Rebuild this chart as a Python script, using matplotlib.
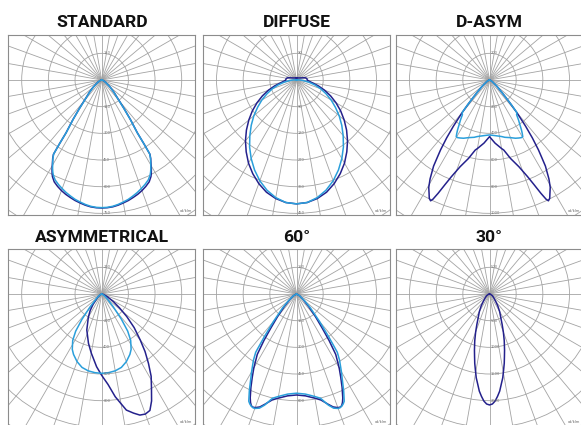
import numpy as np
import matplotlib
matplotlib.use("Agg")
import matplotlib.pyplot as plt
from matplotlib.patches import Circle

# panel titles and the intensity step of one grid circle (cd/klm)
titles = ["STANDARD", "DIFFUSE", "D-ASYM", "ASYMMETRICAL", "60°", "30°"]
steps = [150, 90, 200, 200, 150, 500]

# angles from nadir (deg) and intensities (cd/klm); half curves are mirrored
std_ang = [0, 2.5, 5, 7.5, 10, 12.5, 15, 17.5, 20, 22.5, 25, 27, 28, 29, 30, 31, 32, 33, 33.5, 34,
           36, 38, 40, 45, 50, 60, 70, 80, 90]
std_dark = [720, 719, 716, 710, 702, 694, 684, 674, 662, 648, 632, 610, 594, 576, 556, 537, 520, 498, 430, 360,
            275, 205, 155, 98, 62, 26, 10, 3, 0]
std_light = [718, 717, 713, 706, 697, 688, 676, 664, 650, 636, 620, 600, 586, 570, 552, 535, 517, 496, 428, 356,
             272, 202, 152, 96, 60, 25, 10, 3, 0]

dif_ang = [0, 5, 10, 15, 20, 25, 30, 35, 40, 45, 50, 55, 60, 65, 70, 75, 80, 85, 90, 95, 100, 105, 120, 150, 180]
dif_dark = [418, 415, 406, 392, 372, 349, 324, 296, 268, 239, 210, 182, 154, 127, 101, 76, 54, 42, 36, 36, 34,
            30, 14, 8, 7]
dif_light = [418, 415, 403, 385, 362, 335, 306, 276, 245, 216, 188, 160, 135, 110, 87, 64, 42, 24, 12, 5, 0,
             0, 0, 0, 0]

das_dang = [0, 5, 10, 11.5, 15, 18.7, 21.5, 23, 24.4, 25.4, 26, 27, 28, 29.5, 31, 33, 34, 35, 36.5, 38, 40,
            41.5, 43, 45, 50, 60, 70, 90]
das_dark = [425, 475, 522, 536, 609, 686, 779, 850, 933, 990, 1008, 995, 965, 925, 865, 770, 700, 640, 540, 440,
            320, 240, 180, 130, 70, 22, 8, 0]
das_lang = [0, 5, 10, 12.5, 15, 20, 24, 27, 29, 30.4, 31.5, 32.6, 34, 36, 38, 40, 41.5, 43, 45, 50, 60, 70, 90]
das_light = [412, 418, 428, 435, 445, 460, 478, 488, 494, 493, 470, 445, 410, 370, 330, 320, 245, 180, 130, 70,
             22, 8, 0]

asy_dang = [-90, -70, -60, -50, -40, -35, -30, -22.5, -15, -10, -4, 0, 4, 7.5, 12, 15, 17.5, 20,
            22.5, 25, 28, 31, 34, 37, 40, 44, 48, 52, 57, 65, 75, 90]
asy_dark = [0, 5, 15, 40, 100, 150, 200, 292, 383, 450, 547, 610, 680, 777, 890, 925, 952, 958,
            945, 885, 795, 720, 627, 540, 449, 350, 253, 170, 105, 45, 15, 0]
asy_lang = [0, 5, 10, 15, 20, 25, 28, 32, 35, 38, 42, 50, 60, 90]
asy_light = [595, 592, 585, 570, 540, 500, 470, 410, 340, 240, 130, 50, 20, 0]

six_dang = [0, 5, 10, 13, 16, 18, 20, 21, 22, 23, 24, 26, 28, 30, 33, 35, 37, 40, 44, 50, 60, 90]
six_dark = [568, 575, 595, 612, 645, 668, 680, 682, 678, 662, 640, 585, 530, 480, 405, 320, 240, 165, 100, 50,
            20, 0]
six_lang = [0, 5, 10, 13, 16, 18, 20, 21, 22, 23, 24, 26, 28, 30, 33, 35, 37, 40, 45, 50, 60, 90]
six_light = [558, 565, 585, 602, 650, 675, 685, 685, 680, 672, 660, 605, 550, 505, 445, 400, 300, 200, 110, 60,
             20, 0]

thi_ang = [0, 1.5, 3, 4.5, 6, 7.5, 9, 10.5, 12, 13.5, 15, 17.5, 20, 22.5, 25, 30, 35, 40, 50, 60, 75, 90]
thi_dark = [2080, 2063, 2010, 1924, 1830, 1700, 1590, 1450, 1330, 1200, 1090, 920, 760, 620, 510, 380, 270, 180,
            100, 60, 20, 0]

DARK = "#24218c"
LIGHT = "#2a9fdb"
GRID = "#a3a3a3"


def mirror(ang, val):
    ang = np.asarray(ang, float)
    val = np.asarray(val, float)
    return np.concatenate([-ang[::-1], ang[1:]]), np.concatenate([val[::-1], val[1:]])


curves = [
    [mirror(std_ang, std_dark), mirror(std_ang, std_light)],
    [mirror(dif_ang, dif_dark), mirror(dif_ang, dif_light)],
    [mirror(das_dang, das_dark), mirror(das_lang, das_light)],
    [(np.array(asy_dang), np.array(asy_dark)), mirror(asy_lang, asy_light)],
    [mirror(six_dang, six_dark), mirror(six_lang, six_light)],
    [mirror(thi_ang, thi_dark)],
]

W, H = 581, 425
U = 26.67  # px per grid circle
col_cx = [101.7, 296.5, 489.5]
row_cy = [80, 294]
title_y = [22.5, 237.5]

fig = plt.figure(figsize=(W / 100, H / 100), dpi=100)

for i in range(6):
    r, c = divmod(i, 3)
    cx, cy = col_cx[c], row_cy[r]
    x0, x1, y0, y1 = -3.5, 3.5, -5.06, 1.7
    left = (cx + x0 * U) / W
    top = cy - y1 * U
    ax = fig.add_axes([left, 1 - (top + (y1 - y0) * U) / H, (x1 - x0) * U / W, (y1 - y0) * U / H])
    ax.set_xlim(x0, x1)
    ax.set_ylim(y0, y1)
    ax.set_xticks([])
    ax.set_yticks([])
    for s in ax.spines.values():
        s.set_color("#8c8c8c")
        s.set_linewidth(0.8)

    for k in range(1, 8):
        ax.add_patch(Circle((0, 0), k, fill=False, ec=GRID, lw=0.6))
    for a in np.radians(np.arange(0, 180, 10)):
        ax.plot([-8 * np.cos(a), 8 * np.cos(a)], [-8 * np.sin(a), 8 * np.sin(a)], color=GRID, lw=0.6)

    step = steps[i]
    rings = [1, -1, -2, -3, -4, -5] if r == 0 else [1, -1, -2, -3, -4]
    for k in rings:
        ax.text(0.06, k, str(abs(k) * step), fontsize=2.6, color="#777777", ha="left", va="center")
    ax.text(0.985, 0.012 if r == 0 else 0.03, "cd/klm", transform=ax.transAxes, fontsize=2.6,
            color="#666666", ha="right", va="bottom")

    for j, (ang, cd) in enumerate(curves[i]):
        t = np.radians(ang)
        rr = cd / step
        ax.plot(rr * np.sin(t), -rr * np.cos(t), color=DARK if j == 0 else LIGHT, lw=1.1,
                solid_joinstyle="round")

    fig.text(cx / W, 1 - title_y[r] / H, titles[i], ha="center", va="center",
             fontsize=12.6, fontweight="bold", family=["Roboto", "DejaVu Sans"], color="#111111")

fig.savefig("out.png", dpi=100)
